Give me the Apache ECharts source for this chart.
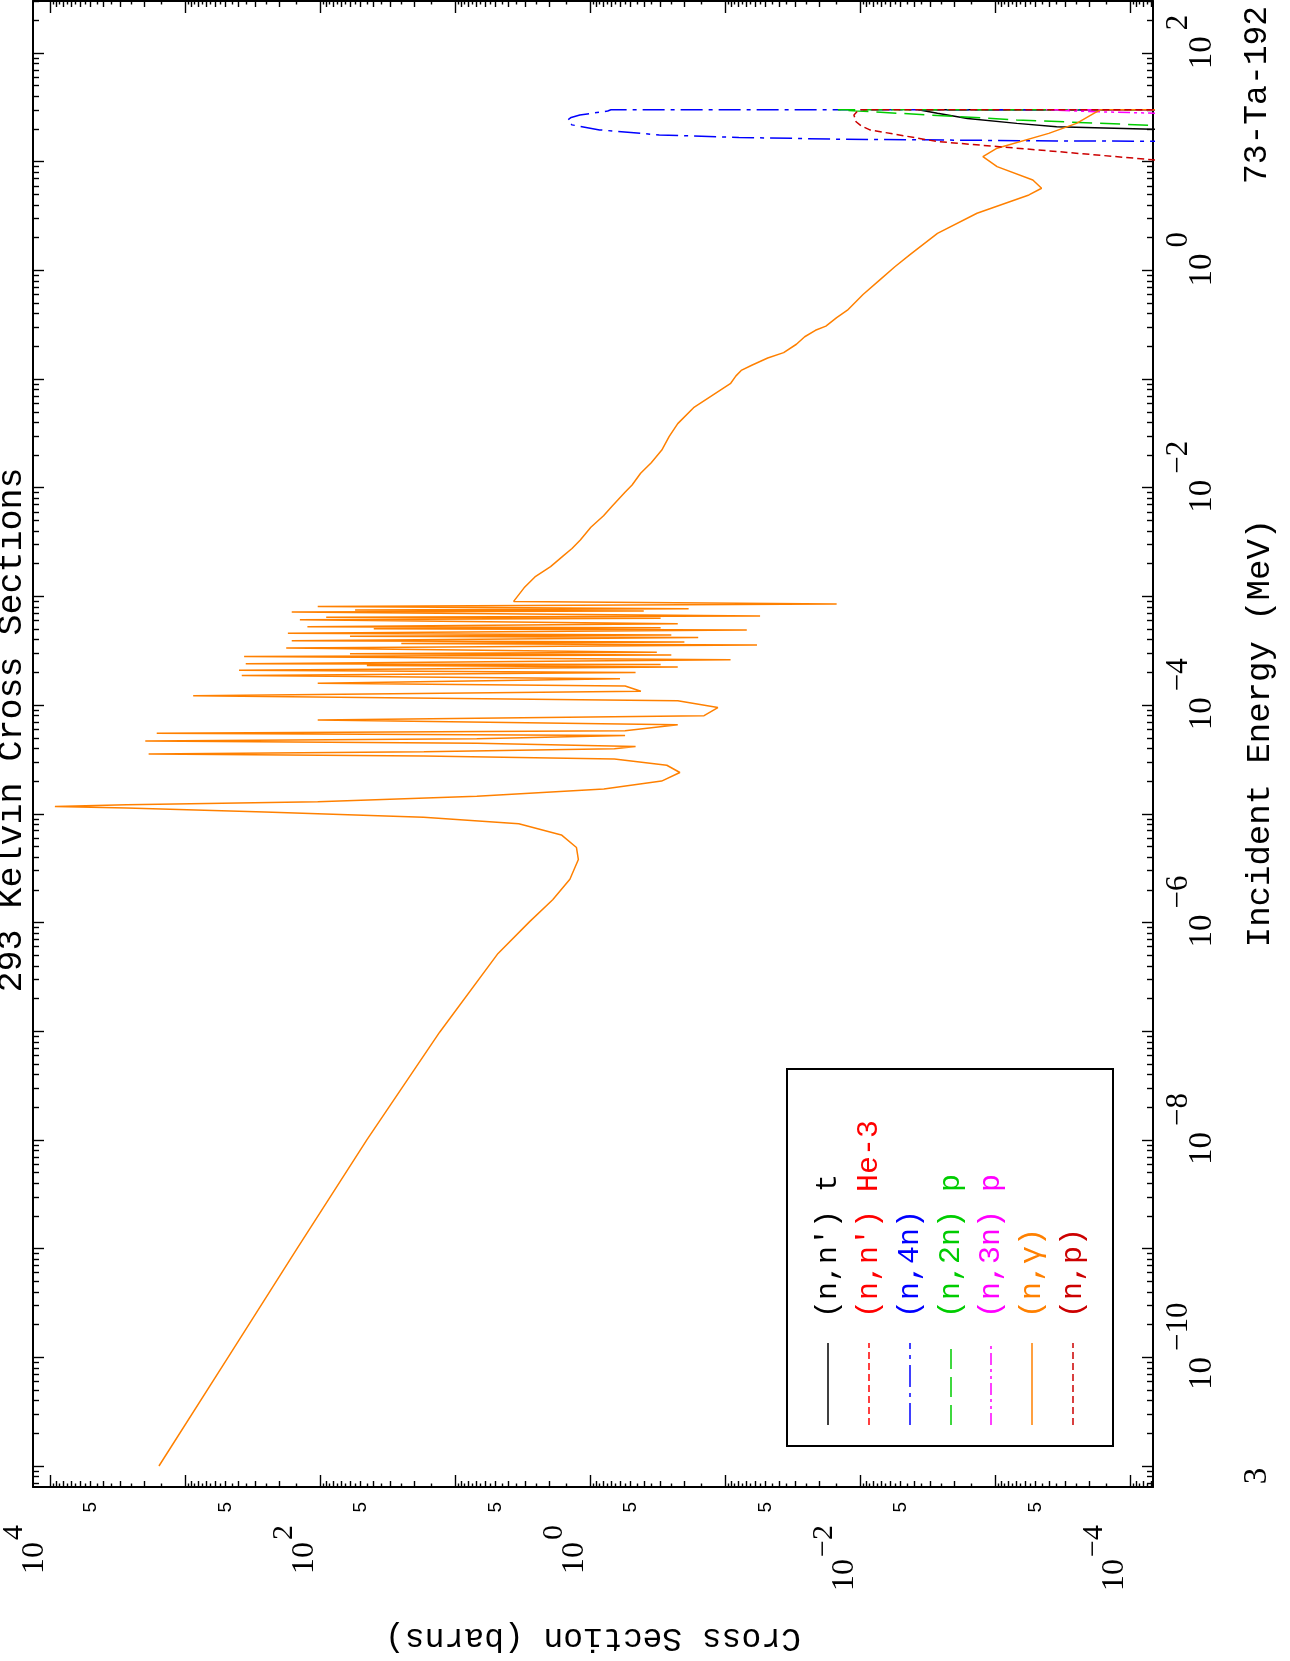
<!DOCTYPE html>
<html><head><meta charset="utf-8">
<script src="https://cdn.jsdelivr.net/npm/echarts@6/dist/echarts.min.js"></script>
<style>html,body{margin:0;padding:0;background:#fff}#c{width:1290px;height:1661px}</style>
</head><body><div id="c"></div>
<script>
// ---------- data (energy in MeV, cross section in barns) ----------
const capE = [
  1e-11, 1e-10, 1e-9, 1e-8, 9.8e-8, 5.2e-7, 1.02e-6,
  1.62e-6, 2.5e-6, 3.8e-6, 4.9e-6, 6.4e-6, 8.1e-6, 9.3e-6, 1.04e-5, 1.13e-5, 1.17e-5, 1.21e-5, 1.29e-5, 1.45e-5, 1.69e-5, 2.0e-5, 2.4e-5, 2.8e-5, 3.2e-5,
  3.4e-5, 3.56e-5, 3.72e-5, 3.98e-5, 4.17e-5, 4.47e-5, 4.68e-5, 4.9e-5, 5.25e-5, 5.5e-5, 5.8e-5, 6.6e-5,
  7.3e-5, 8.0e-5, 9.5e-5, 1.1e-4, 1.22e-4, 1.34e-4, 1.5e-4, 1.59e-4, 1.75e-4, 1.87e-4, 2.0e-4, 2.09e-4, 2.24e-4,
  2.32e-4, 2.36e-4, 2.4e-4, 2.62e-4, 2.8e-4, 2.9e-4, 2.97e-4, 3.06e-4, 3.35e-4, 3.58e-4, 3.7e-4, 3.8e-4, 3.92e-4,
  4.19e-4, 4.3e-4, 4.42e-4, 4.58e-4, 4.9e-4, 5.05e-4, 5.15e-4, 5.25e-4, 5.6e-4, 6.1e-4, 6.3e-4, 6.45e-4, 6.6e-4,
  7.2e-4, 7.35e-4, 7.5e-4, 7.7e-4, 8.1e-4, 8.5e-4, 9.0e-4,
  1.2e-3, 1.51e-3, 1.88e-3, 2.36e-3, 2.76e-3, 3.3e-3, 4.33e-3, 5.53e-3, 6.76e-3, 9.06e-3,
  1.06e-2, 1.36e-2, 1.70e-2, 2.22e-2, 2.97e-2, 3.89e-2, 5.45e-2, 6.82e-2, 9.14e-2, 0.107,
  0.120, 0.134, 0.156, 0.175, 0.209, 0.245, 0.281, 0.307, 0.367, 0.43,
  0.60, 0.805, 1.08, 1.41, 2.19, 3.35, 4.94, 5.69, 6.79, 9.0,
  11.1, 13.3, 18.2, 22.5, 27.9, 30, 30
];
const capXS = [
  1560, 480, 148, 45, 13, 4.8, 2.8,
  1.89, 1.41, 1.22, 1.26, 1.63, 3.37, 17.1, 257, 2700, 9200, 2700, 104, 6.9, 0.79, 0.295, 0.216, 0.27, 0.66,
  17, 1860, 17, 0.66, 0.46, 6.9, 1970, 6.9, 0.55, 1620, 0.55, 0.224,
  104, 0.143, 0.113, 0.224, 870, 0.42, 0.55, 104, 0.6, 380, 0.46, 398, 0.224,
  45, 0.3, 355, 0.091, 365, 0.25, 60, 0.32, 178, 0.058, 25, 0.2, 162,
  0.158, 60, 0.25, 173, 0.069, 40, 0.3, 124, 0.224, 141, 0.3, 90, 0.055,
  162, 0.4, 55, 0.186, 104, 0.0149, 3.68,
  3.08, 2.56, 1.96, 1.58, 1.36, 1.18, 0.986, 0.794, 0.687, 0.553,
  0.488, 0.422, 0.352, 0.294, 0.259, 0.224, 0.171, 0.130, 0.0908, 0.083,
  0.0759, 0.0634, 0.0483, 0.0368, 0.0296, 0.0257, 0.0214, 0.0179, 0.0149, 0.0124,
  0.0095, 0.00724, 0.00552, 0.00422, 0.00267, 0.00136, 5.61e-4, 4.52e-4, 5.25e-4, 9.66e-4,
  1.23e-3, 9.66e-4, 4.0e-4, 2.49e-4, 1.84e-4, 1.66e-4, 1e-6
];
const n4nE  = [15.2, 15.5, 16.1, 16.7, 17.6, 19.6, 21.8, 23.0, 24.2, 25.5, 26.9, 29.2, 30, 30];
const n4nXS = [1e-6, 3.5e-4, 0.0146, 0.079, 0.307, 0.849, 1.36, 1.44, 1.46, 1.38, 1.19, 0.74, 0.70, 1e-6];
const npE   = [9.5, 10.4, 12.4, 15.3, 19.6, 21.3, 23.3, 26.9, 30, 30];
const npXS  = [1e-5, 6.8e-5, 3.5e-4, 2.67e-3, 8.45e-3, 9.8e-3, 0.0107, 0.0111, 0.0102, 1e-6];
const n2nE  = [21.0, 21.4, 24.2, 27.9, 30, 30];
const n2nXS = [1e-6, 6e-5, 6.9e-4, 5.26e-3, 0.0146, 1e-6];
const nntE  = [19.5, 19.9, 21.0, 22.5, 25.0, 27.9, 30, 30];
const nntXS = [1e-6, 6.8e-5, 3.5e-4, 6.9e-4, 1.6e-3, 2.67e-3, 3.7e-3, 1e-6];
const n3nE  = [27.5, 27.9, 28.8, 30, 30];
const n3nXS = [1e-6, 6.5e-5, 1.8e-4, 4.2e-4, 1e-6];
const nnhE  = [28.5, 30, 30];
const nnhXS = [1e-6, 7.5e-5, 1e-6];

const legendLabels = ["(n,n') t", "(n,n') He-3", "(n,4n)", "(n,2n) p", "(n,3n) p", "(n,\u03b3)", "(n,p)"];
const xsDecadeLabels = [4, 2, 0, -2, -4];          // 10^k labels on cross-section axis
const xsFiveDecades = [3, 2, 1, 0, -1, -2, -3, -4]; // "5" labels at 5*10^k
const eDecadeLabels = [2, 0, -2, -4, -6, -8, -10];  // 10^k labels on energy axis

// ---------- styles ----------
const seriesDefs = [
  {name: legendLabels[0], e: nntE, xs: nntXS, color: '#000000', dash: 'solid'},
  {name: legendLabels[1], e: nnhE, xs: nnhXS, color: '#ff0000', dash: [7, 4]},
  {name: legendLabels[2], e: n4nE, xs: n4nXS, color: '#0000ff', dash: [22, 6, 4, 6]},
  {name: legendLabels[3], e: n2nE, xs: n2nXS, color: '#00cc00', dash: [20, 8]},
  {name: legendLabels[4], e: n3nE, xs: n3nXS, color: '#ff00ff', dash: [12, 4, 3, 4, 3, 4]},
  {name: legendLabels[5], e: capE, xs: capXS, color: '#ff8000', dash: 'solid'},
  {name: legendLabels[6], e: npE, xs: npXS, color: '#cc0000', dash: [7, 4]}
];

const XS_LOG = [-4.170, 4.126];
const E_LOG = [-11.193, 2.478];

function inR(v, r) { return v >= r[0] - 1e-9 && v <= r[1] + 1e-9; }
const xsMajor = [], xsMinor = [], xsHalf = [];
for (let d = -5; d <= 4; d++) {
  if (inR(d, XS_LOG)) xsMajor.push(d);
  for (let m = 2; m <= 9; m++) { const v = d + Math.log10(m); if (inR(v, XS_LOG)) xsMinor.push(v); }
  for (let m = 1.5; m < 10; m += 1) { const v = d + Math.log10(m); if (inR(v, XS_LOG)) xsHalf.push(v); }
}
const eMajor = [], eMinor = [];
for (let d = -12; d <= 2; d++) {
  if (inR(d, E_LOG)) eMajor.push(d);
  for (let m = 2; m <= 9; m++) { const v = d + Math.log10(m); if (inR(v, E_LOG)) eMinor.push(v); }
}
const xsFive = xsFiveDecades.map(d => d + Math.log10(5));

function expText(v) { const e = Math.round(v); return e < 0 ? '\u2212' + (-e) : String(e); }
const supRichX = {
  b: {fontFamily: 'Liberation Serif', fontSize: 32, color: '#000', lineHeight: 52, verticalAlign: 'bottom'},
  s: {fontFamily: 'Liberation Serif', fontSize: 30, color: '#000', verticalAlign: 'top', padding: [0, 0, 0, 2]}
};
const supRichY = {
  b: {fontFamily: 'Liberation Serif', fontSize: 33, color: '#000', lineHeight: 56, verticalAlign: 'bottom'},
  s: {fontFamily: 'Liberation Serif', fontSize: 31, color: '#000', verticalAlign: 'top', padding: [0, 0, 0, 6]}
};
const decFmt = v => '{b|10}{s|' + expText(v) + '}';

const TICKW = 1.4;
function xTick(pos, vals, len, extra) {
  return Object.assign({
    type: 'value', min: XS_LOG[0], max: XS_LOG[1], inverse: true, position: pos,
    splitLine: {show: false},
    axisLine: {show: false, onZero: false},
    axisTick: {show: true, inside: true, length: len, customValues: vals, lineStyle: {color: '#000', width: TICKW}},
    axisLabel: {show: false}
  }, extra || {});
}
function yTick(pos, vals, len, extra) {
  return Object.assign({
    type: 'value', min: E_LOG[0], max: E_LOG[1], position: pos,
    splitLine: {show: false},
    axisLine: {show: false, onZero: false},
    axisTick: {show: true, inside: true, length: len, customValues: vals, lineStyle: {color: '#000', width: TICKW}},
    axisLabel: {show: false}
  }, extra || {});
}
const frameLine = {show: true, onZero: false, lineStyle: {color: '#000', width: 2}};

const xAxes = [
  {type: 'log', logBase: 10, min: Math.pow(10, XS_LOG[0]), max: Math.pow(10, XS_LOG[1]), inverse: true, show: false},
  xTick('bottom', xsMajor, 12, {
    axisLine: frameLine,
    axisLabel: {show: true, customValues: xsDecadeLabels, rotate: 90, margin: 38, formatter: decFmt, rich: supRichX,
      align: 'right', verticalAlign: 'middle', padding: [0, 0, 50, 0]},
    name: 'Cross Section (barns)', nameLocation: 'middle', nameRotate: 180, nameGap: 134,
    nameTextStyle: {fontFamily: 'Liberation Mono', fontSize: 33, color: '#000'}
  }),
  xTick('bottom', xsMinor, 6, {
    axisLabel: {show: true, customValues: xsFive, rotate: 90, margin: 15, formatter: () => '5',
      fontFamily: 'Liberation Sans', fontSize: 19, color: '#000'}
  }),
  xTick('bottom', xsHalf, 3.5),
  xTick('top', xsMajor, 12, {axisLine: frameLine}),
  xTick('top', xsMinor, 6),
  xTick('top', xsHalf, 3.5)
];
const yAxes = [
  {type: 'log', logBase: 10, min: Math.pow(10, E_LOG[0]), max: Math.pow(10, E_LOG[1]), show: false},
  yTick('right', eMajor, 11, {
    axisLine: frameLine,
    axisLabel: {show: true, customValues: eDecadeLabels, rotate: 90, margin: 10, formatter: decFmt, rich: supRichY,
      align: 'center', verticalAlign: 'top', padding: [0, 0, 0, 22]},
    name: 'Incident Energy (MeV)', nameLocation: 'middle', nameRotate: 90, nameGap: 90,
    nameTextStyle: {fontFamily: 'Liberation Mono', fontSize: 34, color: '#000', padding: [0, 0, 0, 22]}
  }),
  yTick('right', eMinor, 6),
  yTick('left', eMajor, 11, {axisLine: frameLine}),
  yTick('left', eMinor, 6)
];

const series = seriesDefs.map(s => ({
  type: 'line', name: s.name, xAxisIndex: 0, yAxisIndex: 0,
  data: s.e.map((e, i) => [s.xs[i], e]),
  showSymbol: false, symbol: 'none', clip: true, silent: true,
  lineStyle: {color: s.color, width: 1.5, type: s.dash}
}));

// ---------- legend drawn as rotated graphic ----------
const LG = {x: 787, y: 1069, w: 326, h: 377};
const colX = [828, 869, 910, 951, 991, 1032, 1073];
const graphics = [
  {type: 'rect', shape: {x: LG.x, y: LG.y, width: LG.w, height: LG.h},
   style: {fill: 'transparent', stroke: '#000', lineWidth: 2}, z: 10},
  {type: 'text', x: 29, y: 730, rotation: Math.PI / 2,
   style: {text: '293 Kelvin Cross Sections', font: '35px "Liberation Mono"', fill: '#000', align: 'center', verticalAlign: 'bottom'}},
  {type: 'text', x: 1257, y: 95, rotation: Math.PI / 2,
   style: {text: '73-Ta-192', font: '33px "Liberation Mono"', fill: '#000', align: 'center', verticalAlign: 'middle'}},
  {type: 'text', x: 1257, y: 1476, rotation: Math.PI / 2,
   style: {text: '3', font: '33px "Liberation Serif"', fill: '#000', align: 'center', verticalAlign: 'middle'}}
];
seriesDefs.forEach((s, i) => {
  graphics.push({type: 'line', shape: {x1: colX[i], y1: 1425, x2: colX[i], y2: 1343}, z: 10,
    style: {stroke: s.color, lineWidth: 1.5, lineDash: s.dash === 'solid' ? null : s.dash}});
  graphics.push({type: 'text', x: colX[i], y: 1318, rotation: Math.PI / 2, z: 10,
    style: {text: s.name, font: '30px "Liberation Mono"', fill: s.color, align: 'left', verticalAlign: 'middle'}});
});

const chart = echarts.init(document.getElementById('c'), null, {renderer: 'canvas'});
chart.setOption({
  animation: false,
  backgroundColor: '#ffffff',
  grid: {left: 33, right: 137, top: 1, bottom: 174, containLabel: false, outerBoundsMode: 'none'},
  xAxis: xAxes,
  yAxis: yAxes,
  series: series,
  graphic: graphics
});
</script>
</body></html>
